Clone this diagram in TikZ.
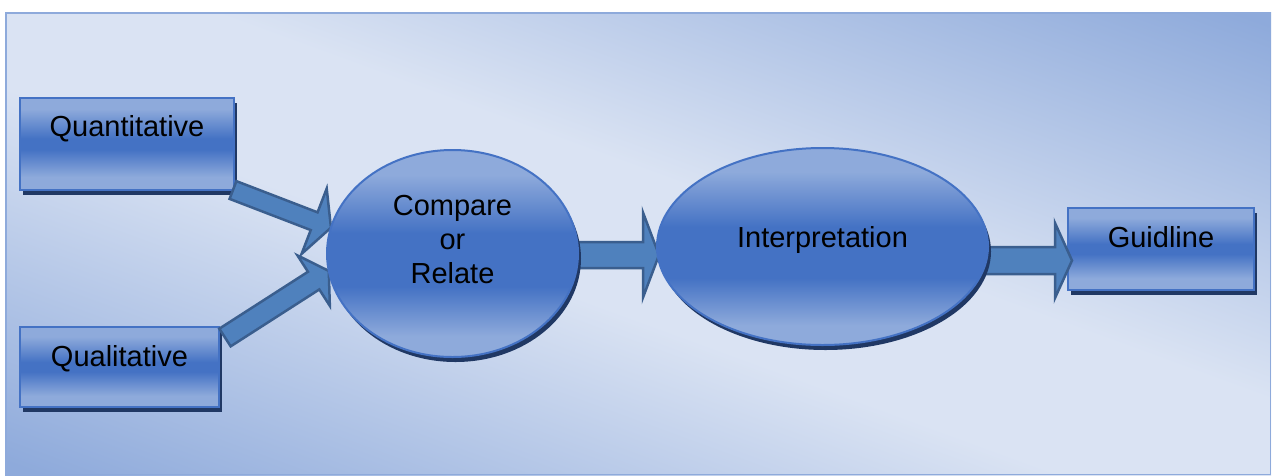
\documentclass[tikz,border=0pt]{standalone}
\usepackage{fontspec}
\setmainfont{Liberation Sans}
\usetikzlibrary{shapes.geometric,shadows,calc}

\definecolor{bgl}{HTML}{DAE3F3}
\definecolor{bgd}{HTML}{8EAADB}
\definecolor{panelb}{HTML}{8EAADB}
\definecolor{nl}{HTML}{8EAADB}
\definecolor{nd}{HTML}{4472C4}
\definecolor{nborder}{HTML}{4472C4}
\definecolor{shadowc}{HTML}{203864}
\definecolor{arrfill}{HTML}{4F81BD}
\definecolor{arrborder}{HTML}{3A5E8E}

\pgfdeclareverticalshading{boxshade}{100bp}{color(0bp)=(nl); color(25bp)=(nl); color(32bp)=(nl); color(47bp)=(nd); color(53bp)=(nd); color(69bp)=(nl); color(75bp)=(nl); color(100bp)=(nl)}
\pgfdeclareverticalshading{ellshade}{100bp}{color(0bp)=(nl); color(25bp)=(nl); color(30bp)=(nl); color(42bp)=(nd); color(55bp)=(nd); color(69bp)=(nl); color(75bp)=(nl); color(100bp)=(nl)}
\pgfdeclareverticalshading{bgshade}{100bp}{color(0bp)=(bgd); color(25bp)=(bgd); color(26bp)=(bgd); color(46bp)=(bgl); color(54bp)=(bgl); color(74bp)=(bgd); color(75bp)=(bgd); color(100bp)=(bgd)}

\pgfdeclarelayer{background}
\pgfdeclarelayer{lower}
\pgfdeclarelayer{arrowlayer}
\pgfsetlayers{background,lower,arrowlayer,main}

% from, to, shaft width, head width, head length
\newcommand{\blockarrow}[5]{%
  \draw[arrowstyle] let \p1=(#1), \p2=(#2),
    \n1={atan2(\y2-\y1,\x2-\x1)}, \n2={veclen(\x2-\x1,\y2-\y1)} in
    [shift={(\p1)}, rotate=\n1]
    (0,#3/2) -- (\n2-#5,#3/2) -- (\n2-#5,#4/2) -- (\n2,0) --
    (\n2-#5,-#4/2) -- (\n2-#5,-#3/2) -- (0,-#3/2) -- cycle;}

\begin{document}
\begin{tikzpicture}[x=1pt,y=-1pt,
  every node/.style={inner sep=0pt, outer sep=0pt},
  boxnode/.style={rectangle, draw=nborder, line width=2pt, shade, shading=boxshade,
    drop shadow={shadow xshift=3pt, shadow yshift=-5pt, fill=shadowc, opacity=1}},
  ellnode/.style={ellipse, draw=nborder, line width=2pt, shade, shading=ellshade,
    drop shadow={shadow xshift=3pt, shadow yshift=-5pt, fill=shadowc, opacity=1}},
  txt/.style={font=\fontsize{29}{34}\selectfont, text=black},
  arrowstyle/.style={fill=arrfill, draw=arrborder, line width=2.5pt, line join=miter}]

\useasboundingbox (0,0) rectangle (1272,475);

% background panel
\begin{pgfonlayer}{background}
  \fill[white] (0,0) rectangle (1272,475);
  \begin{scope}
    \clip (5,12) rectangle (1271,475);
    \begin{scope}[transform canvas={rotate around={-20.09:(638,243.5)}}]
      \shade[overlay, shading=bgshade] (-162,-196.5) rectangle (1438,683.5);
    \end{scope}
  \end{scope}
  \draw[panelb, line width=1.5pt] (5.75,12.75) rectangle (1270.25,474.25);
\end{pgfonlayer}

% boxes
\begin{pgfonlayer}{lower}
  \node[boxnode, minimum width=214pt, minimum height=92pt] (quan) at (127,144) {};
  \node[boxnode, minimum width=199pt, minimum height=80pt] (qual) at (119.5,367) {};
  \node[boxnode, minimum width=186pt, minimum height=82pt] (guid) at (1161,249) {};
\end{pgfonlayer}

% ellipses
\node[ellnode, minimum width=251pt, minimum height=207pt] (cmp) at (452.5,253.5) {};
\node[ellnode, minimum width=331pt, minimum height=197pt] (intp) at (822.5,246.5) {};

% texts
\node[txt, anchor=base] (quantxt) at ($(quan.center)+(0,-8)$) {Quantitative};
\node[txt, anchor=base] (qualtxt) at ($(qual.center)+(0,-1)$) {Qualitative};
\node[txt, anchor=base] (guidtxt) at ($(guid.center)+(0,-1.3)$) {Guidline};
\node[txt, anchor=base] (intptxt) at ($(intp.center)+(0,1)$) {Interpretation};
\node[txt, align=center] (cmptxt) at ($(cmp.center)+(0,-13.5)$) {Compare\\or\\Relate};

% block arrows
\begin{pgfonlayer}{arrowlayer}
  \coordinate (a1s) at ($(quan.south east)+(-1,0)$);
  \coordinate (a2s) at ($(qual.north east)+(6,10.5)$);
  \coordinate (a3s) at ($(cmp.east)+(-15,1.5)$);
  \coordinate (a3e) at ($(intp.west)+(2,8.5)$);
  \coordinate (a4s) at ($(intp.east)+(-15,14)$);
  \coordinate (a4e) at ($(guid.west)+(4,11.5)$);
  \blockarrow{a1s}{cmp.168}{19}{70}{18}
  \blockarrow{a2s}{cmp.188}{21}{60}{18}
  \blockarrow{a3s}{a3e}{26}{85}{16}
  \blockarrow{a4s}{a4e}{27}{75}{17}
\end{pgfonlayer}
\end{tikzpicture}
\end{document}
